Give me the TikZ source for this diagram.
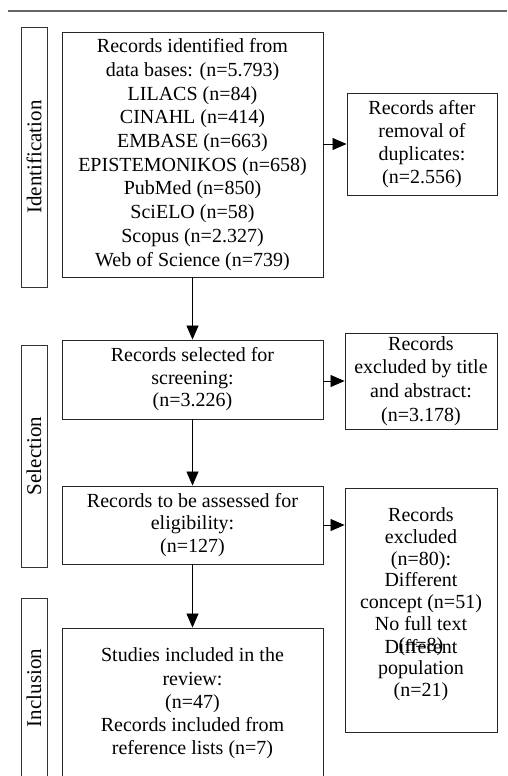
\documentclass[tikz,border=0pt]{standalone}
\usepackage{fontspec}
\setmainfont{Liberation Serif}
\usetikzlibrary{arrows.meta}
\begin{document}
\begin{tikzpicture}[x=1pt,y=-1pt,
  txt/.style={align=center,inner sep=0pt,font=\fontsize{20}{23.7}\selectfont},
  box/.style={txt,draw=black!85,line width=0.9pt},
  lbl/.style={draw=black!80,line width=0.9pt,inner sep=0pt,minimum width=26pt},
  lbltext/.style={rotate=90,inner sep=0pt,font=\fontsize{21}{23}\selectfont},
  arr/.style={line width=0.8pt,-{Triangle[length=14pt,width=12pt]}}]
\useasboundingbox (0,0) rectangle (507,776);
\clip (0,0) rectangle (507,776);
\draw[black!60,line width=1.3pt] (8,11) -- (507,11);
% stage labels
\node[lbl,minimum height=260pt] (l1) at (34,157) {};
\node[lbltext] (t1) at (l1.center) {Identification};
\node[lbl,minimum height=222pt] (l2) at (34,456) {};
\node[lbltext] (t2) at (l2.center) {Selection};
\node[lbl,minimum height=180pt] (l3) at (34,688) {};
\node[lbltext] (t3) at (l3.center) {Inclusion};
% main column
\node[box,minimum width=261pt,minimum height=245pt] (b1) at (192.5,154.5)
  {Records identified from\\data bases: (n=5.793)\\LILACS (n=84)\\CINAHL (n=414)\\EMBASE (n=663)\\EPISTEMONIKOS (n=658)\\PubMed (n=850)\\SciELO (n=58)\\Scopus (n=2.327)\\Web of Science (n=739)};
\node[box,minimum width=261pt,minimum height=79pt,font=\fontsize{20}{22.5}\selectfont] (b2) at (192.5,379.5)
  {Records selected for\\screening:\\(n=3.226)};
\node[box,minimum width=261pt,minimum height=78pt,font=\fontsize{20}{22.5}\selectfont] (b3) at (192.5,525)
  {Records to be assessed for\\eligibility:\\(n=127)};
\node[box,minimum width=261pt,minimum height=151pt,font=\fontsize{20}{23.3}\selectfont] (b4) at (192.5,703.5)
  {Studies included in the\\review:\\(n=47)\\Records included from\\reference lists (n=7)};
% right column
\node[box,minimum width=150pt,minimum height=102pt,font=\fontsize{20}{23}\selectfont] (r1) at (422,144)
  {Records after\\removal of\\duplicates:\\(n=2.556)};
\node[box,minimum width=152pt,minimum height=96pt] (r2) at (421,381)
  {Records\\excluded by title\\and abstract:\\(n=3.178)};
\node[box,minimum width=152pt,minimum height=244pt] (r3) at (421,610) {};
\node[txt,font=\fontsize{20}{21.7}\selectfont] (r3a) at (421,582)
  {Records\\excluded\\(n=80):\\Different\\concept (n=51)\\No full text\\(n=8)};
\node[txt,font=\fontsize{20}{21.7}\selectfont] (r3b) at (421,670)
  {Different\\population\\(n=21)};
% connectors
\draw[arr] (b1.south) -- (b2.north);
\draw[arr] (b2.south) -- (b3.north);
\draw[arr] (b3.south) -- (b4.north);
\draw[arr] (b1.east |- r1.west) -- (r1.west);
\draw[arr] (b2.east |- r2.west) -- (r2.west);
\draw[arr] (b3.east) -- (b3.east -| r3.west);
\end{tikzpicture}
\end{document}
